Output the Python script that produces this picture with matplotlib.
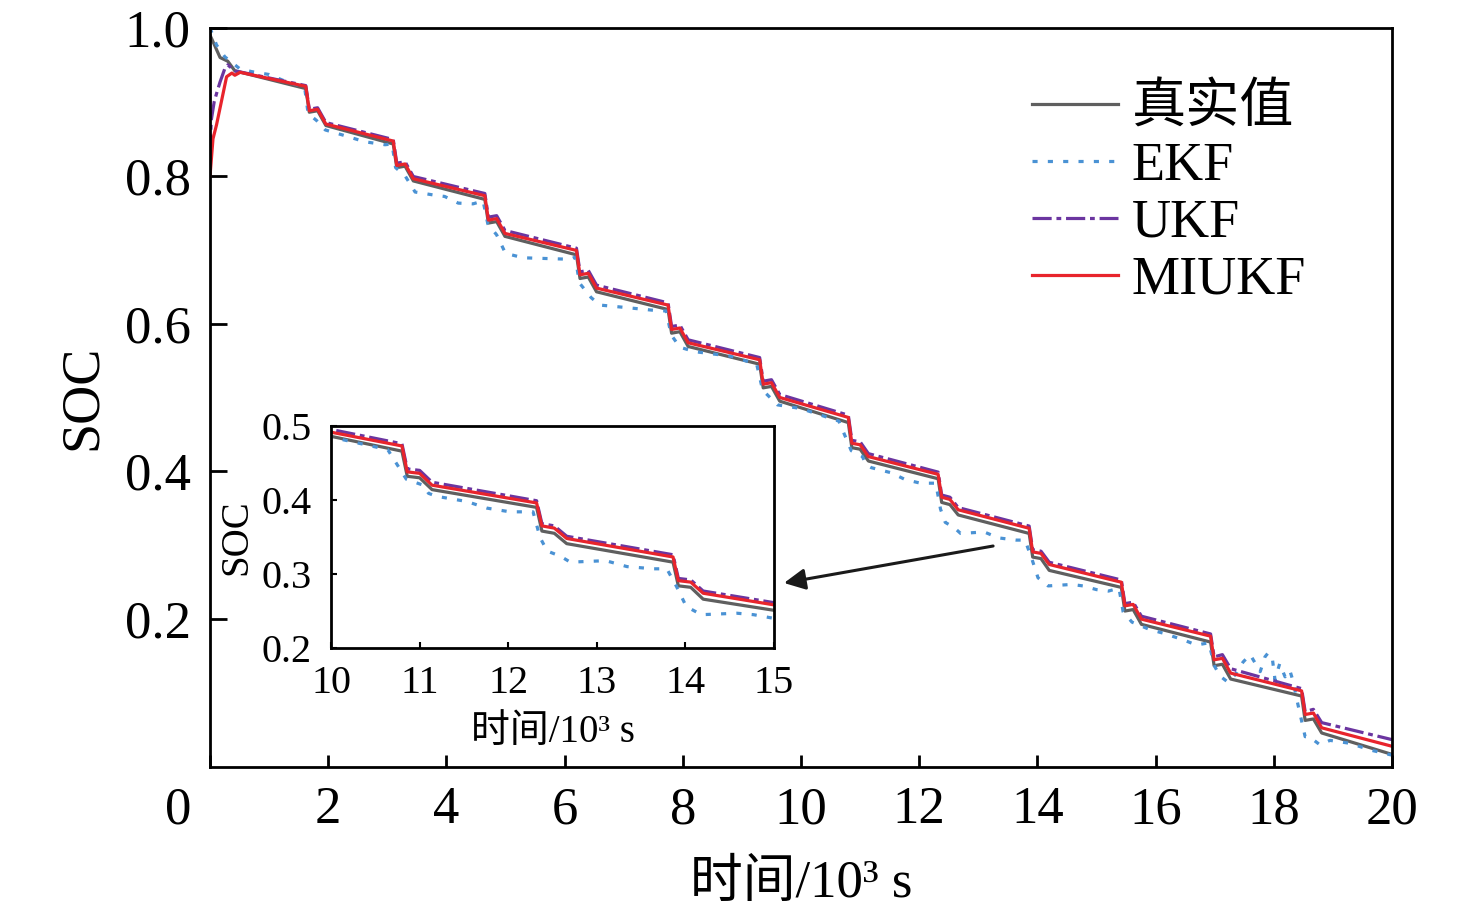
import matplotlib
matplotlib.use("Agg")
import matplotlib.pyplot as plt
import matplotlib.transforms as mtransforms

plt.rcParams['font.family'] = ['Liberation Serif', 'Noto Sans CJK SC', 'DejaVu Sans']

# knot times shared by the stepped curves (10^3 s)
t_cycle = [1.62, 1.68, 1.82, 1.96,
           3.10, 3.16, 3.30, 3.44,
           4.65, 4.71, 4.85, 4.99,
           6.20, 6.26, 6.40, 6.54,
           7.75, 7.81, 7.95, 8.09,
           9.30, 9.36, 9.50, 9.64,
           10.80, 10.86, 11.00, 11.14,
           12.32, 12.38, 12.52, 12.66,
           13.86, 13.92, 14.06, 14.20,
           15.42, 15.48, 15.62, 15.76,
           16.93, 16.99, 17.13, 17.27,
           18.47, 18.53, 18.67, 18.81,
           20.0]

t_true = [0.0, 0.03, 0.17, 0.30, 0.42] + t_cycle
soc_true = [0.990, 0.985, 0.960, 0.955, 0.942,
            0.918, 0.886, 0.888, 0.868,
            0.843, 0.811, 0.813, 0.793,
            0.768, 0.736, 0.738, 0.718,
            0.693, 0.661, 0.663, 0.643,
            0.619, 0.587, 0.589, 0.569,
            0.545, 0.513, 0.515, 0.495,
            0.466, 0.432, 0.430, 0.414,
            0.390, 0.358, 0.355, 0.341,
            0.316, 0.284, 0.282, 0.266,
            0.243, 0.211, 0.213, 0.193,
            0.169, 0.137, 0.139, 0.119,
            0.096, 0.063, 0.065, 0.046,
            0.017]

t_miukf = [0.0, 0.05, 0.11, 0.28, 0.37, 0.42, 0.51] + t_cycle
soc_miukf = [0.800, 0.850, 0.869, 0.934, 0.939, 0.936, 0.940,
             0.921, 0.888, 0.890, 0.870,
             0.847, 0.814, 0.816, 0.796,
             0.773, 0.740, 0.742, 0.722,
             0.699, 0.666, 0.668, 0.648,
             0.625, 0.592, 0.594, 0.574,
             0.551, 0.518, 0.520, 0.500,
             0.473, 0.438, 0.436, 0.420,
             0.396, 0.365, 0.362, 0.348,
             0.323, 0.291, 0.289, 0.274,
             0.250, 0.218, 0.220, 0.200,
             0.177, 0.145, 0.147, 0.127,
             0.103, 0.071, 0.073, 0.053,
             0.028]

t_ukf = [0.0, 0.02, 0.07, 0.12, 0.17, 0.25, 0.30, 0.42] + t_cycle
soc_ukf = [0.830, 0.875, 0.900, 0.914, 0.927, 0.945, 0.950, 0.942,
           0.922, 0.890, 0.892, 0.872,
           0.849, 0.817, 0.819, 0.799,
           0.776, 0.744, 0.746, 0.726,
           0.702, 0.670, 0.672, 0.652,
           0.628, 0.596, 0.598, 0.578,
           0.554, 0.522, 0.524, 0.504,
           0.476, 0.442, 0.440, 0.424,
           0.399, 0.368, 0.365, 0.351,
           0.326, 0.294, 0.292, 0.277,
           0.253, 0.221, 0.223, 0.204,
           0.180, 0.149, 0.152, 0.133,
           0.106, 0.075, 0.078, 0.060,
           0.037]

t_ekf = [0.0, 0.11, 0.25, 0.5, 0.7, 1.0, 1.3, 1.6,
         1.66, 1.8, 1.95, 2.25, 2.62, 2.96, 3.08,
         3.14, 3.3, 3.47, 3.78, 3.97, 4.2, 4.45, 4.62,
         4.7, 4.85, 5.0, 5.3, 5.7, 6.1, 6.18,
         6.25, 6.45, 6.6, 7.0, 7.5, 7.72,
         7.8, 7.95, 8.2, 8.8, 9.25,
         9.35, 9.6, 10.0, 10.64,
         10.85, 11.04, 11.1, 11.19, 11.53, 11.76, 12.02, 12.28,
         12.36, 12.44, 12.59, 12.7, 13.1, 13.34, 13.64, 13.79,
         13.9, 14.01, 14.18, 14.58, 14.77, 15.0, 15.2, 15.38,
         15.45, 15.6, 15.9, 16.13, 16.47, 16.69, 16.9,
         17.0, 17.09, 17.22, 17.35, 17.48, 17.6, 17.77, 17.85, 17.9, 17.97,
         18.02, 18.1, 18.19, 18.27, 18.33, 18.39,
         18.53, 18.6, 18.78, 18.95, 19.29, 19.63, 20.0]
soc_ekf = [1.000, 0.977, 0.961, 0.945, 0.941, 0.937, 0.927, 0.920,
           0.884, 0.875, 0.862, 0.855, 0.846, 0.842, 0.843,
           0.811, 0.800, 0.778, 0.774, 0.772, 0.763, 0.762, 0.766,
           0.735, 0.720, 0.695, 0.689, 0.688, 0.687, 0.690,
           0.655, 0.635, 0.625, 0.622, 0.618, 0.617,
           0.585, 0.568, 0.562, 0.556, 0.545,
           0.510, 0.490, 0.485, 0.468,
           0.428, 0.420, 0.409, 0.405, 0.398, 0.389, 0.384, 0.384,
           0.349, 0.331, 0.324, 0.316, 0.318, 0.310, 0.307, 0.307,
           0.283, 0.256, 0.245, 0.247, 0.245, 0.240, 0.238, 0.242,
           0.210, 0.196, 0.186, 0.181, 0.172, 0.165, 0.168,
           0.136, 0.123, 0.115, 0.125, 0.142, 0.152, 0.129, 0.149, 0.154, 0.150,
           0.118, 0.140, 0.122, 0.131, 0.115, 0.091,
           0.041, 0.041, 0.030, 0.036, 0.032, 0.023, 0.016]

labels = ['真实值', 'EKF', 'UKF', 'MIUKF']
colors = ['#5f5f5f', '#4a92d4', '#6b35a0', '#e8242c']
x_ticks = [0, 2, 4, 6, 8, 10, 12, 14, 16, 18, 20]
y_ticks = [0.2, 0.4, 0.6, 0.8, 1.0]
inset_x_ticks = [10, 11, 12, 13, 14, 15]
inset_y_ticks = [0.2, 0.3, 0.4, 0.5]
x_label = '时间/10³ s'


def draw_lines(ax, lw):
    ax.plot(t_true, soc_true, color=colors[0], lw=lw, label=labels[0])
    ax.plot(t_ekf, soc_ekf, color=colors[1], lw=lw, ls=(0, (1.6, 3.2)), label=labels[1])
    ax.plot(t_ukf, soc_ukf, color=colors[2], lw=lw, ls=(0, (6, 1.5, 1.5, 1.5)), label=labels[2])
    ax.plot(t_miukf, soc_miukf, color=colors[3], lw=lw, label=labels[3])


fig = plt.figure(figsize=(14.76, 9.11), dpi=100)
ax = fig.add_axes([0.1423, 0.1581, 0.8008, 0.8112])
draw_lines(ax, 2.3)
ax.set_xlim(0, 20)
ax.set_ylim(0, 1.0)
ax.set_xticks(x_ticks)
ax.set_yticks(y_ticks)
ax.set_yticklabels(['%.1f' % v for v in y_ticks])
ax.tick_params(direction='in', labelsize=38, width=2)
ax.tick_params(axis='x', length=9, pad=14)
ax.tick_params(axis='y', length=12, pad=14)
for s in ax.spines.values():
    s.set_linewidth(2)
ax.set_xlabel(x_label, fontsize=38, labelpad=18)
ax.set_ylabel('SOC', fontsize=39, labelpad=12)

# the "0" on the x axis sits left of the origin
offset = mtransforms.ScaledTranslation(-0.32, 0, fig.dpi_scale_trans)
lab0 = ax.get_xticklabels()[0]
lab0.set_transform(lab0.get_transform() + offset)

leg = ax.legend(loc='upper left', bbox_to_anchor=(0.695, 0.924), frameon=False,
                fontsize=39, handlelength=1.6, handletextpad=0.25,
                labelspacing=0.12, borderaxespad=0, borderpad=0)

axin = fig.add_axes([0.2243, 0.2887, 0.3001, 0.2437])
draw_lines(axin, 2.3)
axin.set_xlim(10, 15)
axin.set_ylim(0.2, 0.5)
axin.set_xticks(inset_x_ticks)
axin.set_yticks(inset_y_ticks)
axin.set_yticklabels(['%.1f' % v for v in inset_y_ticks])
axin.tick_params(direction='in', labelsize=29, length=4, width=1.5)
axin.tick_params(axis='x', pad=12)
axin.tick_params(axis='y', pad=14)
for s in axin.spines.values():
    s.set_linewidth(2)
axin.set_xlabel(x_label, fontsize=28, labelpad=9)
axin.set_ylabel('SOC', fontsize=28, labelpad=4)

ax.annotate('', xy=(784 / 1476, 1 - 583 / 911), xycoords='figure fraction',
            xytext=(13.25, 0.299), textcoords='data',
            arrowprops=dict(arrowstyle='-|>', color='#1a1a1a', lw=2.2,
                            mutation_scale=32, shrinkA=0, shrinkB=0))

fig.savefig('out.png', dpi=100)
